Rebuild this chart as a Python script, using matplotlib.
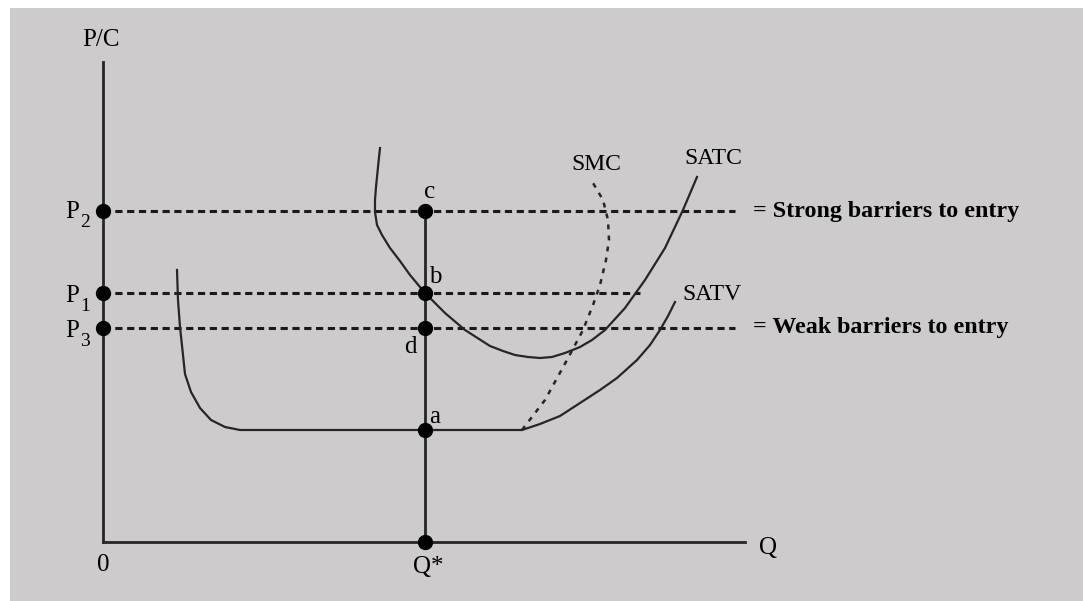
import matplotlib.pyplot as plt

plt.rcParams['font.family'] = ['Liberation Serif', 'DejaVu Serif']
plt.rcParams['lines.scale_dashes'] = False

# chart values (units: px from the origin)
q_star = 322
price_levels = {'P2': 331, 'P1': 249, 'P3': 214}
dash_ends = {'P2': 632, 'P1': 537, 'P3': 632}
point_a = 112

satv_x = [74, 75, 77, 80, 82, 88, 97, 108, 122, 137, 419, 437, 457, 477, 497, 514,
          534, 547, 557, 565, 572]
satv_y = [272, 242, 215, 187, 168, 150, 134, 122, 115, 112, 112, 118, 126, 139, 152, 164,
          182, 197, 212, 226, 240]

satc_x = [277, 275, 273, 272, 272, 274, 279, 287, 297, 307, 322, 342, 362, 387, 400,
          412, 425, 437, 449, 462, 477, 489, 502, 522, 542, 562, 580, 594]
satc_y = [394, 375, 355, 342, 330, 317, 307, 294, 281, 267, 249, 229, 212, 196, 191,
          187, 185, 184, 185, 189, 195, 202, 212, 234, 262, 294, 332, 365]

smc_x = [419, 442, 464, 480, 490, 497, 503, 506, 505, 500, 490]
smc_y = [112, 142, 182, 212, 237, 257, 282, 302, 322, 342, 359]

ink = '#262626'
bg = '#cdcbcc'

fig = plt.figure(figsize=(10.83, 6.01), dpi=100, facecolor='white')
ax = fig.add_axes([10 / 1083, 0, 1073 / 1083, 593 / 601])
ax.set_facecolor(bg)
ax.set_xlim(-93, 980)
ax.set_ylim(-59, 534)
for s in ax.spines.values():
    s.set_visible(False)
ax.set_xticks([])
ax.set_yticks([])

# axes
ax.plot([0, 0], [0, 480], color=ink, lw=2)
ax.plot([0, 642], [0, 0], color=ink, lw=2)
ax.plot([q_star, q_star], [0, price_levels['P2']], color=ink, lw=2)

# price lines
for name, y in price_levels.items():
    ax.plot([0, dash_ends[name]], [y, y], color='#1a1a1a', lw=2.2, dashes=(5.2, 3.3))

# cost curves
ax.plot(satv_x, satv_y, color=ink, lw=1.6)
ax.plot(satc_x, satc_y, color=ink, lw=1.6)
ax.plot(smc_x, smc_y, color=ink, lw=1.8, dashes=(3.5, 4.5))

# points
dots_x = [0, 0, 0, q_star, q_star, q_star, q_star, q_star]
dots_y = [price_levels['P2'], price_levels['P1'], price_levels['P3'],
          price_levels['P2'], price_levels['P1'], price_levels['P3'], point_a, 0]
ax.plot(dots_x, dots_y, 'o', color='black', ms=10, zorder=5)

# labels
fs = 18
ax.text(-2, 502, 'P/C', fontsize=fs, ha='center', va='center')
ax.text(665, -6, 'Q', fontsize=fs, ha='center', va='center')
ax.text(0, -23, '0', fontsize=fs, ha='center', va='center')
ax.text(q_star + 3, -25, 'Q*', fontsize=fs, ha='center', va='center')
for name, base in [('P2', 324), ('P1', 240), ('P3', 205)]:
    ax.text(-24, base, 'P', fontsize=fs, ha='right', va='baseline')
    ax.text(-23, base - 9, name[1], fontsize=14, ha='left', va='baseline')
ax.text(q_star + 5, 350, 'c', fontsize=fs, ha='center', va='center')
ax.text(q_star + 10, 265, 'b', fontsize=fs, ha='center', va='center')
ax.text(q_star - 15, 195, 'd', fontsize=fs, ha='center', va='center')
ax.text(q_star + 10, 125, 'a', fontsize=fs, ha='center', va='center')
ax.text(493, 377, 'SMC', fontsize=17, ha='center', va='center')
ax.text(610, 384, 'SATC', fontsize=17, ha='center', va='center')
ax.text(609, 247, 'SATV', fontsize=17, ha='center', va='center')
ax.text(650, price_levels['P2'], '= Strong barriers to entry', fontsize=17.3,
        fontweight='bold', ha='left', va='center')
ax.text(650, price_levels['P3'], '= Weak barriers to entry', fontsize=17.3,
        fontweight='bold', ha='left', va='center')

fig.savefig('out.png', dpi=100, facecolor='white')
